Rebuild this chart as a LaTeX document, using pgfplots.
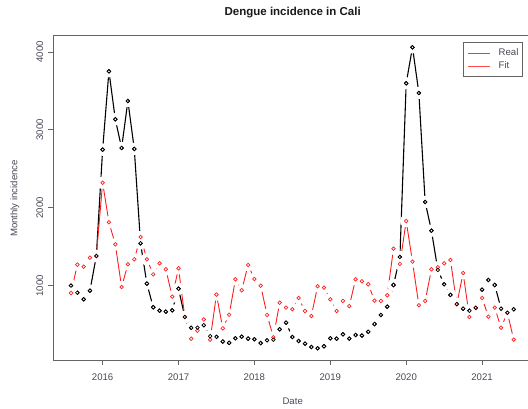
\documentclass[border=0pt]{standalone}
\usepackage{pgfplots}
\pgfplotsset{compat=1.18}
\usepackage{pgfplotstable}
\usepackage{fontspec}
\setmainfont{Liberation Sans}
\definecolor{axgray}{RGB}{100,100,100}
\definecolor{txtgray}{RGB}{70,74,84}
\definecolor{fitred}{RGB}{255,30,30}
\pgfplotstableread{
t real fit
2015.583 1000 906
2015.667 910 1270
2015.750 825 1244
2015.833 936 1359
2015.917 1381 1381
2016.000 2746 2322
2016.083 3752 1814
2016.167 3136 1531
2016.250 2768 983
2016.333 3371 1275
2016.417 2755 1339
2016.500 1544 1625
2016.583 1026 1339
2016.667 723 1146
2016.750 679 1287
2016.833 666 1210
2016.917 684 859
2017.000 961 1223
2017.083 598 598
2017.167 459 320
2017.250 461 422
2017.333 493 566
2017.417 352 307
2017.500 343 886
2017.583 283 453
2017.667 266 626
2017.750 325 1082
2017.833 345 941
2017.917 320 1266
2018.000 312 1086
2018.083 264 1000
2018.167 299 624
2018.250 307 338
2018.333 440 782
2018.417 525 718
2018.500 341 697
2018.583 290 842
2018.667 255 675
2018.750 213 611
2018.833 196 992
2018.917 222 975
2019.000 325 825
2019.083 320 675
2019.167 376 804
2019.250 320 738
2019.333 367 1082
2019.417 360 1056
2019.500 408 1018
2019.583 508 808
2019.667 624 804
2019.750 730 877
2019.833 1009 1475
2019.917 1368 1279
2020.000 3598 1830
2020.083 4060 1308
2020.167 3474 748
2020.250 2074 804
2020.333 1706 1210
2020.417 1202 1236
2020.500 1018 1287
2020.583 881 1330
2020.667 765 761
2020.750 705 1163
2020.833 679 598
2020.917 714 718
2021.000 949 842
2021.083 1073 602
2021.167 1009 718
2021.250 705 461
2021.333 653 653
2021.417 697 307
}\dengue
\newcommand{\lbl}{\fontsize{9.6}{11}\selectfont}
\pgfdeclareplotmark{halo}{\pgfpathcircle{\pgfpointorigin}{\pgfplotmarksize}\pgfsetfillcolor{white}\pgfusepathqfill}
\begin{document}
\begin{tikzpicture}
\begin{axis}[
  at={(53.3pt,49pt)}, anchor=south west,
  scale only axis, width=478.1pt, height=325pt,
  xmin=2015.35, xmax=2021.65, ymin=46, ymax=4218,
  xtick={2016,2017,2018,2019,2020,2021},
  ytick={1000,2000,3000,4000},
  xticklabel={\pgfmathprintnumber[1000 sep=]{\tick}},
  /pgf/number format/assume math mode=true,
  /pgf/number format/1000 sep={},
  tick align=outside, major tick length=5pt,
  xtick pos=bottom, ytick pos=left,
  tick style={axgray, line width=0.8pt},
  axis line style={axgray, line width=0.8pt},
  ticklabel style={font=\lbl, text=txtgray},
  yticklabel style={rotate=90, anchor=south, inner sep=0pt, yshift=5pt},
  xticklabel style={anchor=north, inner sep=0pt, yshift=-9pt},
  legend style={at={(0.982,0.9775)}, anchor=north east, draw=axgray, line width=0.8pt,
    fill=white, font=\lbl, text=txtgray, inner xsep=4pt, inner ysep=6.3pt, row sep=3.4pt,
    nodes={inner sep=0pt, text height=6.8pt, text depth=2.2pt},
    /tikz/every odd column/.append style={column sep=8pt}},
  legend cell align=left,
  legend image code/.code={\path (0pt,0pt) -- (22.3pt,0pt); \draw[#1] (5.3pt,0pt) -- (22.3pt,0pt);},
  clip=false,
]
\addlegendimage{black!55, line width=0.9pt}
\addlegendentry{Real}
\addlegendimage{fitred!80, line width=0.8pt}
\addlegendentry{Fit}
% Real series
\addplot[black, line width=1.1pt, forget plot] table[x=t, y=real]{\dengue};
\addplot[only marks, mark=halo, mark size=6.2pt, forget plot] table[x=t, y=real]{\dengue};
\addplot[black, only marks, mark=o, mark size=1.8pt, mark options={draw=black, line width=0.7pt}, forget plot] table[x=t, y=real]{\dengue};
% Fit series
\addplot[fitred, line width=0.9pt, forget plot] table[x=t, y=fit]{\dengue};
\addplot[only marks, mark=halo, mark size=6.2pt, forget plot] table[x=t, y=fit]{\dengue};
\addplot[fitred, only marks, mark=o, mark size=1.8pt, mark options={draw=fitred, line width=0.7pt}, forget plot] table[x=t, y=fit]{\dengue};
\addplot[black, only marks, mark=o, mark size=1.8pt, mark options={draw=black, line width=0.7pt}, forget plot] table[x=t, y=real]{\dengue};
\end{axis}
\node[font=\fontsize{11.5}{13}\selectfont\bfseries, text=black!90] at (292.7pt,396pt) {Dengue incidence in Cali};
\node[font=\lbl, text=txtgray] at (292.7pt,8pt) {Date};
\node[font=\lbl, text=txtgray, rotate=90] at (14.8pt,210.5pt) {Monthly incidence};
\pgfresetboundingbox
\path (0,0) rectangle (528pt,409pt);
\end{tikzpicture}
\end{document}
